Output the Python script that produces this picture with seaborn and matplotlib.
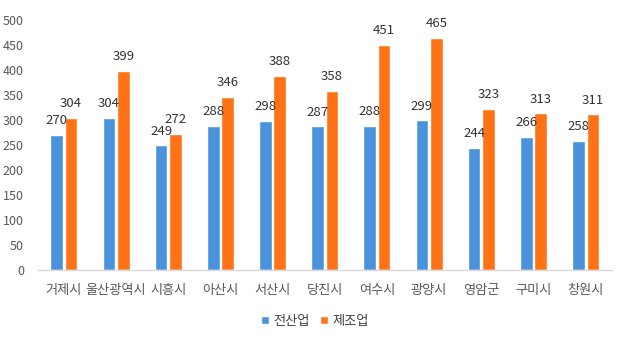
import matplotlib
matplotlib.use("Agg")
import matplotlib.pyplot as plt
import seaborn as sns
import pandas as pd

cities = ["거제시", "울산광역시", "시흥시", "아산시", "서산시", "당진시", "여수시", "광양시", "영암군", "구미시", "창원시"]
all_industry = [270, 304, 249, 288, 298, 287, 288, 299, 244, 266, 258]
manufacturing = [304, 399, 272, 346, 388, 358, 451, 465, 323, 313, 311]
series_names = ["전산업", "제조업"]
y_ticks = [0, 50, 100, 150, 200, 250, 300, 350, 400, 450, 500]

sns.set_theme(style="white")
plt.rcParams['font.family'] = ['Noto Sans CJK KR', 'DejaVu Sans']

df = pd.DataFrame({
    "city": cities * 2,
    "value": all_industry + manufacturing,
    "series": [series_names[0]] * len(cities) + [series_names[1]] * len(cities),
})

colors = ["#4a93dc", "#ff7316"]
fig = plt.figure(figsize=(6.3, 3.46), dpi=100)
ax = fig.add_axes([0.060, 0.22, 0.911, 0.722])
sns.barplot(data=df, x="city", y="value", hue="series", palette=colors,
            width=0.55, gap=0.12, ax=ax, legend=False, saturation=1)

ax.set_ylim(0, 500)
ax.set_yticks(y_ticks)
ax.set_xlim(-0.5, len(cities) - 0.5)
ax.set_xlabel("")
ax.set_ylabel("")
for s in ["top", "right", "left"]:
    ax.spines[s].set_visible(False)
ax.spines["bottom"].set_color("#d9d9d9")
ax.spines["bottom"].set_linewidth(1)
ax.tick_params(axis="y", labelsize=9, colors="#595959", length=0, pad=10)
ax.tick_params(axis="x", labelsize=9.5, colors="#595959", length=0, pad=10)

for cont in ax.containers:
    ax.bar_label(cont, fmt="%d", padding=5.5, fontsize=9.5, color="#333333", fontweight="medium")

from matplotlib.patches import Patch
handles = [Patch(facecolor=c, label=n) for c, n in zip(colors, series_names)]
fig.legend(handles=handles, loc="center", bbox_to_anchor=(0.5, 0.072), ncol=2,
           frameon=False, fontsize=9.5, handlelength=0.6, handleheight=0.6,
           handletextpad=0.3, columnspacing=0.8, labelcolor="#404040")

fig.savefig("out.png", dpi=100)
